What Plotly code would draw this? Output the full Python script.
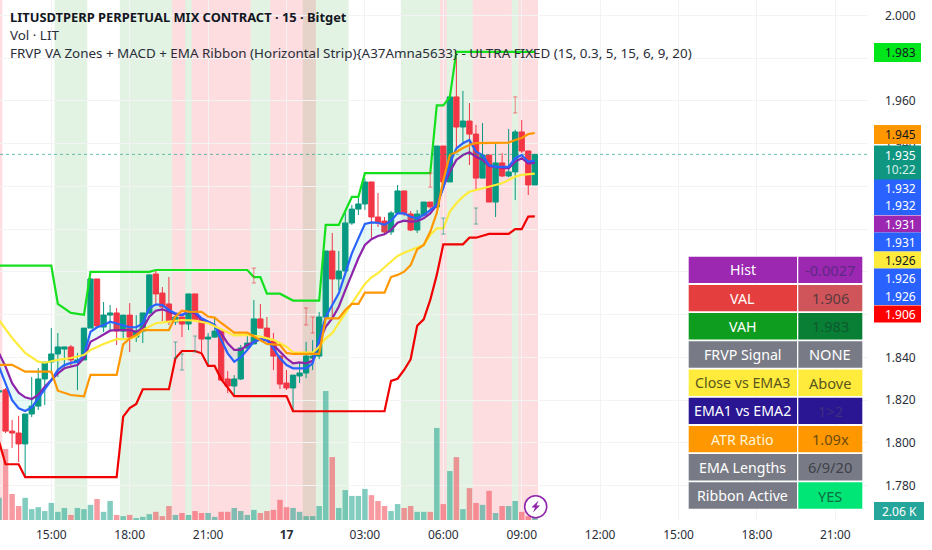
import plotly.graph_objects as go

W, H = 932, 550
PLOT_W, PLOT_H = 868, 520
FONT = "Noto Sans"

bars = list(range(83))
opens = [1.8238,1.8248,1.8055,1.8046,1.7995,1.8135,1.8172,1.8299,1.8378,1.8416,1.8439,1.8449,1.8378,1.8388,1.8537,1.8767,1.8542,1.8598,1.8608,1.8523,1.8598,1.8495,1.8523,1.8608,1.8790,1.8701,1.8650,1.8566,1.8589,1.8556,1.8697,1.8580,1.8486,1.8495,1.8523,1.8299,1.8266,1.8299,1.8444,1.8463,1.8580,1.8537,1.8477,1.8406,1.8280,1.8257,1.8313,1.8327,1.8397,1.8406,1.8589,1.8898,1.8767,1.8804,1.9029,1.9094,1.9118,1.9221,1.9057,1.9038,1.8987,1.9076,1.9179,1.9071,1.8996,1.9066,1.9127,1.9104,1.9389,1.9221,1.9619,1.9478,1.9506,1.9445,1.9239,1.9347,1.9127,1.9310,1.9249,1.9268,1.9455,1.9366,1.9207]
highs = [1.8257,1.8257,1.8107,1.8126,1.8135,1.8308,1.8350,1.8378,1.8537,1.8514,1.8449,1.8458,1.8421,1.8537,1.8772,1.8767,1.8659,1.8645,1.8631,1.8598,1.8654,1.8598,1.8608,1.8790,1.8809,1.8729,1.8776,1.8598,1.8589,1.8697,1.8697,1.8580,1.8514,1.8584,1.8523,1.8336,1.8317,1.8458,1.8514,1.8668,1.8650,1.8589,1.8514,1.8411,1.8341,1.8317,1.8374,1.8472,1.8481,1.8612,1.8898,1.8982,1.8898,1.9076,1.9113,1.9151,1.9239,1.9221,1.9169,1.9057,1.9085,1.9207,1.9179,1.9085,1.9090,1.9127,1.9127,1.9389,1.9389,1.9619,1.9806,1.9647,1.9590,1.9488,1.9497,1.9347,1.9403,1.9356,1.9469,1.9465,1.9511,1.9366,1.9350]
lows = [1.8229,1.8046,1.7976,1.7910,1.7845,1.8121,1.8154,1.8177,1.8322,1.8308,1.8355,1.8355,1.8247,1.8388,1.8537,1.8537,1.8519,1.8528,1.8458,1.8481,1.8425,1.8472,1.8467,1.8603,1.8654,1.8570,1.8552,1.8552,1.8495,1.8528,1.8575,1.8425,1.8364,1.8491,1.8289,1.8233,1.8224,1.8294,1.8434,1.8463,1.8537,1.8472,1.8341,1.8252,1.8247,1.8154,1.8280,1.8303,1.8341,1.8392,1.8584,1.8589,1.8715,1.8804,1.9020,1.9066,1.9090,1.8959,1.9010,1.8973,1.8973,1.9071,1.9062,1.8991,1.8982,1.9066,1.9094,1.9099,1.9221,1.9221,1.9371,1.9408,1.9300,1.9179,1.9239,1.9127,1.9057,1.9244,1.9244,1.9136,1.9357,1.9160,1.9207]
closes = [1.8243,1.8055,1.8046,1.7995,1.8135,1.8172,1.8299,1.8378,1.8416,1.8449,1.8449,1.8388,1.8388,1.8537,1.8767,1.8547,1.8598,1.8608,1.8523,1.8598,1.8495,1.8523,1.8608,1.8786,1.8697,1.8636,1.8566,1.8589,1.8556,1.8697,1.8575,1.8486,1.8495,1.8523,1.8294,1.8266,1.8299,1.8444,1.8467,1.8580,1.8537,1.8477,1.8406,1.8275,1.8257,1.8317,1.8327,1.8406,1.8406,1.8589,1.8898,1.8767,1.8804,1.9029,1.9094,1.9118,1.9221,1.9057,1.9029,1.8987,1.9076,1.9179,1.9071,1.8996,1.9071,1.9127,1.9104,1.9389,1.9221,1.9619,1.9478,1.9506,1.9445,1.9239,1.9347,1.9127,1.9310,1.9249,1.9268,1.9455,1.9366,1.9207,1.9350]
volumes_k = [5.7,18.3,6.7,3.6,5.7,2.8,3.3,2.3,4.4,2.1,3.1,1.3,3.1,2.8,3.9,5.4,2.1,4.9,1.3,1.0,1.3,0.5,0.8,1.5,2.1,1.0,3.6,1.3,1.8,1.3,2.3,1.8,1.8,0.8,2.1,2.1,3.1,2.3,1.3,2.6,1.8,2.3,2.6,5.2,3.3,3.1,2.1,1.0,1.0,3.6,33.2,16.2,3.1,7.7,6.2,6.2,8.0,6.4,4.9,3.6,2.3,4.1,3.1,3.6,2.1,2.1,2.1,23.7,4.1,12.6,16.2,2.8,8.2,4.4,3.9,7.5,1.8,3.6,3.6,4.9,2.1,1.0,2.06]

vah_bars = [0,8,9,11,13,14,23,24,38,39,40,41,43,45,49,50,52,54,55,56,66,67,68,69,70,82]
vah_vals = [1.8829,1.8829,1.8650,1.8608,1.8599,1.8800,1.8800,1.8809,1.8809,1.8776,1.8776,1.8698,1.8698,1.8666,1.8666,1.9020,1.9020,1.9151,1.9151,1.9262,1.9262,1.9579,1.9579,1.9619,1.9830,1.9830]
val_bars = [0,1,3,4,18,19,20,21,22,26,27,28,30,31,32,33,34,36,44,45,59,60,61,62,63,64,65,66,67,68,71,72,73,75,78,79,80,81,82]
val_vals = [1.8006,1.7900,1.7900,1.7840,1.7840,1.8123,1.8163,1.8182,1.8251,1.8251,1.8396,1.8430,1.8430,1.8419,1.8360,1.8360,1.8298,1.8219,1.8219,1.8148,1.8148,1.8290,1.8300,1.8341,1.8391,1.8548,1.8578,1.8669,1.8786,1.8929,1.8929,1.8960,1.8960,1.8978,1.8978,1.9000,1.9000,1.9059,1.9060]
atr_bars = [0,2,4,8,9,11,13,14,18,19,20,21,22,26,27,28,29,30,31,32,33,34,35,36,38,39,40,41,43,44,45,49,50,52,53,54,55,56,59,60,61,62,63,64,65,66,67,68,69,70,71,72,73,76,78,79,80,81,82]
atr_vals = [1.8365,1.8365,1.8333,1.8333,1.8244,1.8224,1.8218,1.8318,1.8318,1.8461,1.8489,1.8505,1.8528,1.8528,1.8591,1.8619,1.8614,1.8614,1.8613,1.8591,1.8586,1.8561,1.8538,1.8516,1.8516,1.8497,1.8482,1.8463,1.8458,1.8421,1.8416,1.8416,1.8583,1.8583,1.8622,1.8650,1.8650,1.8703,1.8703,1.8776,1.8786,1.8801,1.8832,1.8906,1.8926,1.8988,1.9076,1.9230,1.9347,1.9361,1.9380,1.9394,1.9403,1.9405,1.9405,1.9417,1.9427,1.9445,1.9450]
ema3_bars = [0,2,4,6,7,9,11,13,14,15,16,18,20,21,22,23,24,26,28,30,32,34,36,38,39,40,42,44,45,46,48,49,50,51,52,53,54,55,56,57,58,59,60,61,62,63,64,65,66,67,68,69,70,71,72,73,75,77,78,79,80,82]
ema3_vals = [1.8575,1.8491,1.8421,1.8380,1.8375,1.8388,1.8397,1.8411,1.8435,1.8450,1.8463,1.8485,1.8486,1.8497,1.8528,1.8544,1.8560,1.8567,1.8575,1.8572,1.8560,1.8532,1.8503,1.8505,1.8500,1.8497,1.8482,1.8450,1.8424,1.8422,1.8422,1.8450,1.8489,1.8513,1.8560,1.8606,1.8653,1.8700,1.8744,1.8775,1.8794,1.8822,1.8848,1.8875,1.8890,1.8903,1.8915,1.8926,1.8973,1.9004,1.9004,1.9082,1.9121,1.9152,1.9175,1.9183,1.9199,1.9215,1.9230,1.9246,1.9254,1.9260]
ema1_vals = [1.8356,1.8280,1.8200,1.8162,1.8149,1.8166,1.8208,1.8255,1.8294,1.8341,1.8364,1.8374,1.8380,1.8411,1.8520,1.8541,1.8551,1.8567,1.8559,1.8551,1.8541,1.8541,1.8559,1.8630,1.8648,1.8645,1.8622,1.8606,1.8598,1.8614,1.8614,1.8583,1.8567,1.8551,1.8481,1.8419,1.8380,1.8400,1.8435,1.8473,1.8485,1.8481,1.8442,1.8396,1.8364,1.8349,1.8349,1.8349,1.8372,1.8481,1.8590,1.8645,1.8700,1.8793,1.8887,1.8957,1.9024,1.9032,1.9030,1.9020,1.9040,1.9074,1.9074,1.9058,1.9051,1.9066,1.9090,1.9113,1.9193,1.9308,1.9378,1.9402,1.9417,1.9363,1.9347,1.9300,1.9292,1.9292,1.9292,1.9332,1.9347,1.9316,1.9320]
ema2_vals = [1.8419,1.8356,1.8279,1.8235,1.8213,1.8205,1.8224,1.8263,1.8294,1.8325,1.8349,1.8357,1.8364,1.8396,1.8473,1.8489,1.8509,1.8525,1.8528,1.8528,1.8528,1.8520,1.8536,1.8590,1.8618,1.8625,1.8614,1.8602,1.8598,1.8614,1.8606,1.8575,1.8567,1.8551,1.8513,1.8466,1.8435,1.8435,1.8458,1.8473,1.8485,1.8481,1.8458,1.8427,1.8396,1.8372,1.8377,1.8372,1.8384,1.8473,1.8543,1.8583,1.8637,1.8715,1.8793,1.8864,1.8926,1.8953,1.8968,1.8976,1.8996,1.9030,1.9040,1.9035,1.9038,1.9051,1.9074,1.9113,1.9199,1.9269,1.9324,1.9347,1.9360,1.9339,1.9324,1.9296,1.9290,1.9287,1.9285,1.9316,1.9332,1.9308,1.9310]

mark_bars = [27,28,30,39,47,48,66,68,73,79]
mark_tops = [1.8472,1.8416,1.8500,1.8818,1.8631,1.8589,1.9263,1.9052,1.9099,1.9619]
mark_bottoms = [1.8397,1.8341,1.8425,1.8748,1.8552,1.8514,1.9197,1.8977,1.9024,1.9544]
mark_up = [True,True,True,False,False,False,False,True,True,False]

green_bands = [(8.5,13.5),(18.5,26.5),(28.5,29.5),(38.5,41.5),(46.5,53.5),(61.5,67.5),(68.5,72.5),(78.5,79.5)]
pink_bands = [(-1,0.5),(26.5,28.5),(29.5,38.5),(41.5,48.5),(67.5,68.5),(72.5,78.5),(79.5,82.5)]

price_ticks = [2.0,1.98,1.96,1.94,1.92,1.90,1.88,1.86,1.84,1.82,1.80,1.78]
price_tick_text = ["2.000","1.980","1.960","1.940","","","","","1.840","1.820","1.800","1.780"]
time_tick_bars = [8,20,32,44,56,68,80,92,104,116,128]
time_tick_text = ["15:00","18:00","21:00","<b>17</b>","03:00","06:00","09:00","12:00","15:00","18:00","21:00"]

TEAL, RED = "#089981", "#f23645"
def vol_color(o, c):
    return "rgba(8,153,129,0.5)" if c >= o else "rgba(242,54,69,0.5)"

def px_x(x):
    return x / PLOT_W
def px_y(y):
    return 1 - y / PLOT_H

fig = go.Figure()
fig.add_trace(go.Bar(x=bars, y=volumes_k, yaxis="y", marker=dict(color=[vol_color(o, c) for o, c in zip(opens, closes)], line_width=0), width=0.84, hoverinfo="skip"))
fig.add_trace(go.Scatter(x=bars, y=ema2_vals, yaxis="y2", mode="lines", line=dict(color="#8e24aa", width=2.2), hoverinfo="skip"))
fig.add_trace(go.Scatter(x=bars, y=ema1_vals, yaxis="y2", mode="lines", line=dict(color="#2962ff", width=2.2), fill="tonexty", fillcolor="rgba(0,200,170,0.10)", hoverinfo="skip"))
fig.add_trace(go.Scatter(x=ema3_bars, y=ema3_vals, yaxis="y2", mode="lines", line=dict(color="#ffeb3b", width=2.2), hoverinfo="skip"))
fig.add_trace(go.Scatter(x=atr_bars, y=atr_vals, yaxis="y2", mode="lines", line=dict(color="#ff9800", width=2.2), hoverinfo="skip"))
fig.add_trace(go.Scatter(x=val_bars, y=val_vals, yaxis="y2", mode="lines", line=dict(color="#f00000", width=2.2), hoverinfo="skip"))
fig.add_trace(go.Scatter(x=vah_bars, y=vah_vals, yaxis="y2", mode="lines", line=dict(color="#14e01e", width=2.2), hoverinfo="skip"))
for b, t, bt, up in zip(mark_bars, mark_tops, mark_bottoms, mark_up):
    c = "rgba(8,153,129,0.6)" if up else "rgba(242,54,69,0.6)"
    fig.add_trace(go.Scatter(x=[b, b], y=[t, bt], yaxis="y2", mode="lines+markers", line=dict(color=c, width=1),
                             marker=dict(symbol="line-ew", size=3, line=dict(color=c, width=1)), hoverinfo="skip"))
fig.add_trace(go.Scatter(x=[0.148, 133], y=[1.935, 1.935], yaxis="y2", mode="lines", opacity=0.6, line=dict(color="#089981", width=1, dash="dot"), hoverinfo="skip"))
fig.add_trace(go.Candlestick(x=bars, open=opens, high=highs, low=lows, close=closes, yaxis="y2",
    increasing=dict(line=dict(color=TEAL, width=1), fillcolor=TEAL),
    decreasing=dict(line=dict(color=RED, width=1), fillcolor=RED), whiskerwidth=0, hoverinfo="skip"))

shapes = []
for a, b in green_bands:
    shapes.append(dict(type="rect", layer="below", xref="x", yref="paper", x0=a, x1=b, y0=0, y1=1, fillcolor="rgba(76,175,80,0.16)", line_width=0))
for a, b in pink_bands:
    shapes.append(dict(type="rect", layer="below", xref="x", yref="paper", x0=a, x1=b, y0=0, y1=1, fillcolor="rgba(242,54,69,0.17)", line_width=0))

annotations = []
def text_ann(x, y, s, size=13, color="#131722", anchor="left", font=FONT):
    annotations.append(dict(x=px_x(x), y=px_y(y), xref="paper", yref="paper", text=s, showarrow=False, xanchor=anchor, yanchor="middle",
                            font=dict(family=font, size=size, color=color), align=anchor, borderpad=0))

text_ann(9, 17, "<b>LITUSDTPERP PERPETUAL MIX CONTRACT · 15 · Bitget</b>", 12.9)
text_ann(9, 35.5, "Vol · LIT", 13.4, "#2a2e39")
text_ann(9, 53.5, "FRVP VA Zones + MACD + EMA Ribbon (Horizontal Strip){A37Amna5633} - ULTRA FIXED (1S, 0.3, 5, 15, 6, 9, 20)", 13.4, "#2a2e39")

# price tags on the axis
tag_rows = [(52.5,19,"1.983","#00e61a","#131722"),(134.5,19,"1.945","#ff9800","#131722"),(188,18,"1.932","#2962ff","#ffffff"),(206,18,"1.932","#2962ff","#ffffff"),
            (224,17,"1.931","#9c27b0","#ffffff"),(242,19,"1.931","#2962ff","#ffffff"),(260,17,"1.926","#ffeb3b","#131722"),(278,19,"1.926","#2962ff","#ffffff"),
            (296,18,"1.926","#2962ff","#ffffff"),(314,17,"1.906","#ff0000","#ffffff")]
for cy, h, s, bg, fg in tag_rows:
    shapes.append(dict(type="rect", layer="above", xref="paper", yref="paper", x0=px_x(874), x1=px_x(921), y0=px_y(cy + h / 2), y1=px_y(cy - h / 2), fillcolor=bg, line_width=0))
    text_ann(900, cy, s, 12, fg, "center")
shapes.append(dict(type="rect", layer="above", xref="paper", yref="paper", x0=px_x(874), x1=px_x(921), y0=px_y(179.5), y1=px_y(145.5), fillcolor="#0f9680", line_width=0))
text_ann(900, 155, "1.935", 12, "#ffffff", "center")
text_ann(900, 170, "10:22", 12, "#d5efe9", "center")
shapes.append(dict(type="rect", layer="above", xref="paper", yref="paper", x0=px_x(874), x1=px_x(924), y0=px_y(520), y1=px_y(502), fillcolor="#26a69a", line_width=0))
text_ann(899, 511, "2.06 K", 12, "#ffffff", "center")

# status table
table_rows = [("Hist","-0.0027","#9c27b0","#9c27b0","#ffffff","#5c2a85"),
              ("VAL","1.906","#e53e3e","#d0555a","#ffffff","#5a3a3e"),
              ("VAH","1.983","#0f9d1f","#087f35","#ffffff","#0d5a2e"),
              ("FRVP Signal","NONE","#787b86","#787b86","#ffffff","#ffffff"),
              ("Close vs EMA3","Above","#ffeb3b","#ffeb3b","#5a5520","#5a5520"),
              ("EMA1 vs EMA2","1>2","#2a1593","#2a1593","#ffffff","#3f2f7d"),
              ("ATR Ratio","1.09x","#ff9800","#ff9800","#fff4d6","#6b4a10"),
              ("EMA Lengths","6/9/20","#787b86","#787b86","#ffffff","#3f4148"),
              ("Ribbon Active","YES","#787b86","#00e676","#ffffff","#0f6b42")]
for r, (label, value, bg1, bg2, fg1, fg2) in enumerate(table_rows):
    y0 = 256.7 + r * 28.2
    y1 = y0 + 26.4
    shapes.append(dict(type="rect", layer="above", xref="paper", yref="paper", x0=px_x(688.7), x1=px_x(797), y0=px_y(y1), y1=px_y(y0), fillcolor=bg1, line_width=0))
    shapes.append(dict(type="rect", layer="above", xref="paper", yref="paper", x0=px_x(798.3), x1=px_x(862.3), y0=px_y(y1), y1=px_y(y0), fillcolor=bg2, line_width=0))
    text_ann(742.8, (y0 + y1) / 2, label, 14.2, fg1, "center")
    text_ann(830.3, (y0 + y1) / 2, value, 14.6, fg2, "center")

# lightning badge
shapes.append(dict(type="circle", layer="above", xref="paper", yref="paper", x0=px_x(524.7), x1=px_x(546.7), y0=px_y(517.7), y1=px_y(495.7), fillcolor="#ffffff", line=dict(color="#8e24aa", width=1.6)))
bolt = [(538.5,500.5),(531.5,507.5),(535,507.5),(533,512.5),(540,505.5),(536.5,505.5)]
path = "M " + " L ".join(f"{px_x(x):.5f},{px_y(y):.5f}" for x, y in bolt) + " Z"
shapes.append(dict(type="path", layer="above", xref="paper", yref="paper", path=path, fillcolor="#8e24aa", line_width=0))

GRID = "#f3f3f4"
fig.update_layout(
    width=W, height=H, autosize=False, showlegend=False, paper_bgcolor="#ffffff", plot_bgcolor="#ffffff",
    margin=dict(l=0, r=W - PLOT_W, t=0, b=H - PLOT_H), boxgap=0.1, boxgroupgap=0.1, shapes=shapes, annotations=annotations, bargap=0.15,
    font=dict(family=FONT, size=12, color="#131722"),
    xaxis=dict(range=[0.148, 133.0], tickmode="array", tickvals=time_tick_bars, ticktext=time_tick_text, showgrid=True, gridcolor=GRID, gridwidth=1,
               rangeslider=dict(visible=False), zeroline=False, showline=False, ticks="", tickfont=dict(size=12, family=FONT, color="#2a2e39"), ticklabelstandoff=6),
    yaxis=dict(range=[0, 133.9], visible=False, fixedrange=True),
    yaxis2=dict(range=[1.7639, 2.00725], overlaying="y", side="right", tickmode="array", tickvals=price_ticks, ticktext=price_tick_text,
                showgrid=True, gridcolor=GRID, gridwidth=1, zeroline=False, showline=False, ticks="", tickfont=dict(size=12, family=FONT, color="#2a2e39"), ticklabelstandoff=16),
)
fig.write_html("out.html", config=dict(displayModeBar=False), post_script="document.body.style.margin='0';")
